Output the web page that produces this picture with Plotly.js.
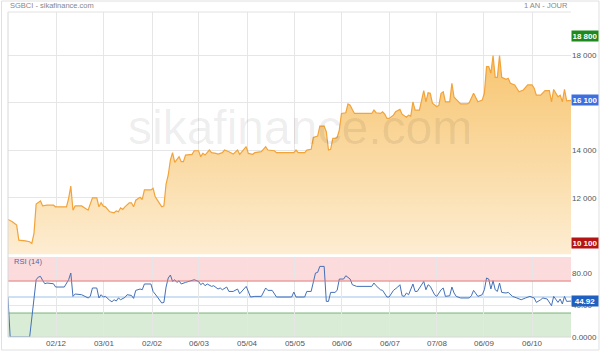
<!DOCTYPE html>
<html><head><meta charset="utf-8">
<script src="https://cdn.plot.ly/plotly-3.0.1.min.js"></script>
<style>html,body{margin:0;padding:0;background:#fff}#chart{width:600px;height:351px}</style>
</head><body><div id="chart"></div>
<script>
// Trading-day index (0 = first session of the year window) and closing values of SGBCI
const priceDays = [0,2,4,5,8,10,11,12,13,14,15,16,18,21,22,27,28,29,30,31,34,37,39,41,42,43,44,45,47,49,50,51,52,53,54,56,57,58,59,61,62,63,66,67,68,69,71,72,73,74,75,76,77,79,80,81,82,85,86,88,89,90,91,93,94,96,97,99,100,102,104,106,107,110,111,113,114,117,119,120,123,124,132,133,134,137,138,140,141,143,144,146,147,148,149,150,151,152,153,154,156,157,158,159,160,163,168,169,170,172,173,174,175,176,178,179,181,182,184,185,186,187,188,190,192,193,194,195,196,198,199,200,201,202,204,205,206,207,209,212,213,215,217,219,220,221,222,223,224,225,226,227,228,230,231,232,234,236,238,240,242,243,244,246,248,250,251,252,253,254,255,256,257,258,260];
const priceValues = [11090,10990,10850,10220,10190,10150,10080,10500,11740,11790,11870,11660,11690,11690,11620,11620,11980,12490,11480,11660,11660,11480,12000,12000,11620,11790,11650,11620,11410,11370,11450,11410,11580,11510,11620,11790,11790,11620,11900,12020,11930,12330,12330,12400,12040,11900,11620,11660,12580,12960,13590,13900,13490,13730,13520,13520,13800,13830,13980,13980,13730,13870,13800,14010,13900,13870,13840,13900,14010,13940,13840,14010,13830,14150,13870,13830,13900,13940,14150,14010,13980,13900,13900,14010,13900,13900,14010,14040,14540,14600,15020,15020,14780,14010,14040,14500,14500,14540,14850,15550,15580,15950,15900,15720,15550,15550,15550,15690,15580,15550,15620,15520,15340,15340,15480,15620,15720,15520,15390,15480,15440,16040,15690,15690,16510,16040,16420,16400,15980,15830,15900,16400,16460,16040,16040,16820,16230,16140,15950,15950,16000,16400,16040,16110,16400,17520,17520,17240,17990,17070,17070,17990,17070,16990,17030,16820,16750,16460,16540,16750,16750,16610,16320,16320,16510,16510,16040,16560,16400,16250,16320,16040,16560,16080,16100];

const rsiDays = [0,1,10,13,14,15,16,17,18,19,21,22,26,28,29,30,31,34,37,38,39,41,42,43,44,45,46,47,48,49,50,51,52,54,55,57,58,59,61,62,63,65,66,67,68,69,71,72,73,74,75,76,77,78,79,80,82,84,86,88,89,90,91,92,94,95,97,98,99,101,102,104,106,107,110,112,114,117,119,120,122,124,131,132,133,137,138,140,142,143,144,146,147,148,149,151,152,153,155,156,158,159,161,168,169,170,172,173,175,176,178,180,181,182,183,184,185,187,188,189,192,193,194,195,197,198,200,201,202,204,205,206,207,209,213,214,215,217,219,220,221,222,223,224,225,226,227,228,230,231,233,235,237,239,241,243,244,246,247,249,251,252,253,254,255,256,257,258,260];
const rsiValues = [49.5,0,0,71.6,75,75.8,70.8,66.6,67.5,67.5,66.6,62.5,62.5,71.6,80,50.8,53.8,52.9,48.8,50.8,61.3,61.3,48.8,52.9,50,50.8,47.9,45.8,44.1,46.6,45,48.8,46.6,49.5,52.9,52,48.3,58.3,60,59.1,66.3,66.6,66.3,57,53.8,50,42.5,43.3,62.5,73.8,77.5,69.5,71.6,68.3,70.4,66.3,68.3,70.4,71.6,69.5,65.4,67.5,64.1,66.3,63.3,64.1,60,61.3,59.1,62.5,57,57,60,54.1,63.3,50,50.8,50.8,61.3,58.3,58.3,50,50,56.3,50,50,57,57,80,80.8,88.3,88.3,44.5,44.5,55.8,55.8,58.3,72.5,72.5,76.6,72.5,65.4,63.3,63.3,67.5,64.1,59.1,58.3,50,50,58.3,62.5,65.4,51.6,50.8,55,52.9,66.3,57,57,69.5,59.1,65.4,63.3,52.9,50.8,59.1,61.3,50.8,51.6,62.5,55,50.8,48.8,48.8,51.6,58.3,50.8,52.9,59.1,73.8,72.5,60,70.4,59.1,57,67.5,55.8,55,55.8,50.8,48.8,46.6,48.8,50.8,48.8,43.3,46.6,48.8,47.5,39.1,50.8,46.6,43.3,47.5,41.3,50.8,44.5,44.92];

const tickDays = [22.2,44.3,66.5,88.2,110.4,132.5,154.2,176.4,198.1,219.8,242];
const tickLabels = ['02/12','03/01','02/02','06/03','05/04','05/05','06/06','06/07','07/08','06/09','06/10'];
// 10 000 and 16 000 are hidden behind the low / last-price markers in the reference
const priceTicks = [10000,12000,14000,16000,18000];
const priceTickLabels = ['','12 000','14 000','','18 000'];
const rsiTicks = [0,40,80];
const rsiTickLabels = ['0.0000','40.00','80.00'];
const rsiBands = {oversold:30, mid:50, overbought:70};
const highValue = 18800, lowValue = 10100, lastPrice = 16100, lastRsi = 44.92;

const FONT = '"Liberation Sans", Arial, sans-serif';
const fmt = v => String(v).replace(/\B(?=(\d{3})+(?!\d))/g, ' ');

const traces = [
  {x: priceDays, y: priceValues, type:'scatter', mode:'lines', xaxis:'x', yaxis:'y',
   line:{color:'#F2A33A', width:1.2}, fill:'tozeroy',
   fillgradient:{type:'vertical', start:9630, stop:18000,
     colorscale:[[0,'rgb(253,237,210)'],[1,'rgb(247,197,112)']]},
   hoverinfo:'skip'},
  {x: rsiDays, y: rsiValues, type:'scatter', mode:'lines', xaxis:'x', yaxis:'y2',
   line:{color:'#4470B8', width:1}, hoverinfo:'skip'}
];

function box(y, yref, text, color){
  return {xref:'paper', x:1, xanchor:'left', yref:yref, y:y, yanchor:'middle', text:text,
    showarrow:false, bgcolor:color, borderpad:1, width:24, height:8, align:'center',
    font:{family:FONT, size:8, color:'#fff', weight:'bold'}};
}

const layout = {
  width:600, height:351,
  margin:{l:8, r:29, t:12, b:14, pad:0},
  paper_bgcolor:'#fff', plot_bgcolor:'rgba(0,0,0,0)',
  showlegend:false,
  font:{family:FONT, size:8, color:'#555'},
  xaxis:{range:[0,260], anchor:'y2', tickmode:'array', tickvals:tickDays, ticktext:tickLabels,
    showgrid:true, gridcolor:'#e6e6e6', gridwidth:1, zeroline:false, showline:false, ticks:'',
    tickfont:{family:FONT, size:8, color:'#555'}, fixedrange:true},
  yaxis:{domain:[0.255,1], range:[9630,19820], side:'right', tickmode:'array',
    tickvals:priceTicks, ticktext:priceTickLabels, showgrid:true, gridcolor:'#e6e6e6',
    zeroline:false, ticks:'', tickfont:{family:FONT, size:8, color:'#555'}, fixedrange:true},
  yaxis2:{domain:[0,0.246], range:[0,100], side:'right', tickmode:'array',
    tickvals:rsiTicks, ticktext:rsiTickLabels, showgrid:true, gridcolor:'#e6e6e6',
    zeroline:false, ticks:'', tickfont:{family:FONT, size:8, color:'#555'}, fixedrange:true},
  shapes:[
    {type:'rect', xref:'paper', x0:0, x1:1, yref:'y2', y0:rsiBands.overbought, y1:100,
      fillcolor:'rgb(252,219,221)', line:{width:0}, layer:'below'},
    {type:'rect', xref:'paper', x0:0, x1:1, yref:'y2', y0:0, y1:rsiBands.oversold,
      fillcolor:'rgb(216,236,214)', line:{width:0}, layer:'below'},
    {type:'line', xref:'paper', x0:0, x1:1, yref:'y2', y0:rsiBands.overbought, y1:rsiBands.overbought,
      line:{color:'rgb(226,120,120)', width:1}},
    {type:'line', xref:'paper', x0:0, x1:1, yref:'y2', y0:rsiBands.oversold, y1:rsiBands.oversold,
      line:{color:'rgb(120,180,120)', width:1}, layer:'below'},
    {type:'line', xref:'paper', x0:0, x1:1, yref:'y2', y0:rsiBands.mid, y1:rsiBands.mid,
      line:{color:'rgb(190,214,240)', width:1.5}, layer:'below'},
    {type:'line', xref:'paper', x0:0, x1:0, yref:'paper', y0:0, y1:1, line:{color:'#d8d8d8', width:1}},
    {type:'line', xref:'paper', x0:0, x1:1, yref:'paper', y0:1, y1:1, line:{color:'#e2e2e2', width:1}},
    {type:'line', xref:'paper', x0:0, x1:1, yref:'paper', y0:0, y1:0, line:{color:'#d8d8d8', width:1}},
    {type:'rect', xref:'paper', x0:-0.0115, x1:1.0497, yref:'paper', y0:-0.04, y1:1.0338,
      line:{color:'#e0e0e0', width:1}, fillcolor:'rgba(0,0,0,0)'}
  ],
  annotations:[
    {xref:'paper', x:0.519, yref:'paper', y:0.646, text:'sikafinance.com', showarrow:false,
      font:{family:FONT, size:48, color:'rgba(0,0,0,0.07)'}},
    {xref:'paper', x:0, xanchor:'left', yref:'paper', y:1.0185, yanchor:'middle',
      text:'SGBCI - sikafinance.com', showarrow:false, font:{family:FONT, size:7.5, color:'#888'}},
    {xref:'paper', x:0.9985, xanchor:'right', yref:'paper', y:1.0185, yanchor:'middle',
      text:'1 AN - JOUR', showarrow:false, font:{family:FONT, size:7.5, color:'#888'}},
    {xref:'paper', x:0.007, xanchor:'left', yref:'paper', y:0.231, yanchor:'middle',
      text:'RSI (14)', showarrow:false, font:{family:FONT, size:7.5, color:'#4a6aa8'}},
    box(highValue, 'y', fmt(highValue), '#1E8A1E'),
    box(lastPrice, 'y', fmt(lastPrice), '#3C6FE0'),
    box(lowValue, 'y', fmt(lowValue), '#B41414'),
    box(lastRsi, 'y2', lastRsi.toFixed(2), '#1F5FBF')
  ]
};

Plotly.newPlot('chart', traces, layout, {displayModeBar:false, staticPlot:true});
</script>
</body></html>
